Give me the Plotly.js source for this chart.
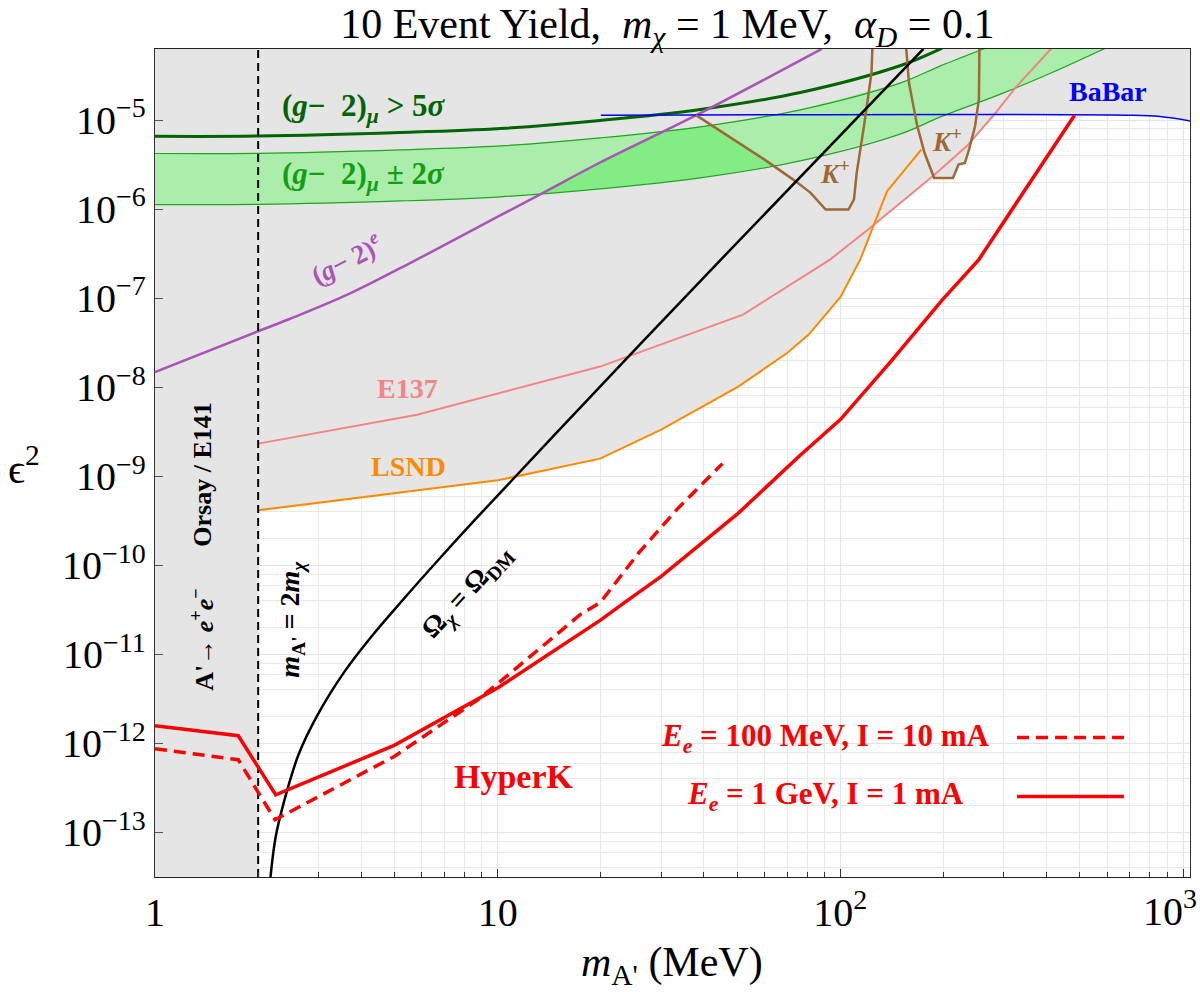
<!DOCTYPE html>
<html>
<head>
<meta charset="utf-8">
<script src="https://cdn.plot.ly/plotly-3.0.1.min.js"></script>
<style>
  html, body { margin: 0; padding: 0; background: #ffffff; }
  #chart { width: 1200px; height: 992px; }
</style>
</head>
<body>
<div id="chart"></div>
<script>
// ---- axis extent: dark photon mass (MeV) and kinetic mixing squared ----
const xLimits = [1, 1048];
const yLimits = [3.16e-14, 6.31e-5];
const mChi = 1;                      // dark matter mass, MeV
const thresholdMass = 2 * mChi;      // m_A' = 2 m_chi

// ---- tick labels ----
const xTickVals = [1, 10, 100, 1000];
const xTickText = ['1', '10', '10<sup>2</sup>', '10<sup>3</sup>'];
const yTickExponents = [-13, -12, -11, -10, -9, -8, -7, -6, -5];

// ---- (g-2)_mu: 5 sigma exclusion and +/- 2 sigma preferred band ----
const gm2Mu5sX = [1.0, 2.0, 5.19, 10.2, 19.9, 39.0, 76.4, 150, 196, 223];
const gm2Mu5sY = [6.6e-6, 6.64e-6, 7.27e-6, 8.07e-6, 9.93e-6, 1.32e-5, 2.05e-5, 4.12e-5, 6.34e-5, 8.1e-5];
const gm2BandTopX = [1.0, 2.0, 5.19, 10.2, 19.9, 39.0, 76.4, 150, 196, 264];
const gm2BandTopY = [4.23e-6, 4.25e-6, 4.65e-6, 5.15e-6, 6.34e-6, 8.43e-6, 1.31e-5, 2.63e-5, 4.08e-5, 6.4e-5];
const gm2BandBotX = [1.0, 2.0, 5.19, 10.2, 19.9, 39.0, 76.4, 150, 196, 292, 409, 592];
const gm2BandBotY = [1.13e-6, 1.135e-6, 1.24e-6, 1.38e-6, 1.69e-6, 2.25e-6, 3.5e-6, 7.03e-6, 1.09e-5, 1.95e-5, 3.35e-5, 6.4e-5];

// ---- (g-2)_e ----
const gm2eX = [1.0, 2.0, 2.48, 3.71, 5.66, 8.77, 13.57, 19.9, 38.0, 88.3];
const gm2eY = [1.48e-8, 4.26e-8, 5.89e-8, 1.135e-7, 2.585e-7, 6.31e-7, 1.53e-6, 3.35e-6, 1.14e-5, 6.34e-5];

// ---- E137 ----
const e137X = [2.0, 5.82, 19.9, 52.0, 93.3, 120.5, 185.6, 233.2, 279.6, 326.3, 412.8];
const e137Y = [2.33e-9, 4.93e-9, 1.71e-8, 6.56e-8, 2.72e-7, 5.92e-7, 2.33e-6, 5.06e-6, 1.13e-5, 2.39e-5, 6.4e-5];

// ---- LSND ----
const lsndX = [2.0, 10.0, 19.9, 30.0, 50.2, 70.1, 80.8, 100, 114.3, 136.8, 151.5, 172.4];
const lsndY = [4.15e-10, 9.02e-10, 1.58e-9, 3.35e-9, 1.01e-8, 2.44e-8, 3.91e-8, 1.03e-7, 2.72e-7, 1.59e-6, 2.56e-6, 4.69e-6];

// ---- BaBar ----
const babarX = [20, 692, 857, 1057];
const babarY = [1.14e-5, 1.14e-5, 1.10e-5, 9.75e-6];

// ---- K+ decays (two windows) ----
const kaon1X = [37.9, 49.0, 60.1, 73.9, 81.9, 90.6, 105.6, 109.6, 111.6, 117.2, 120.3, 123.3, 124.0];
const kaon1Y = [1.14e-5, 6.07e-6, 3.61e-6, 2.07e-6, 1.53e-6, 9.93e-7, 9.93e-7, 1.29e-6, 2.56e-6, 8.57e-6, 1.86e-5, 3.41e-5, 6.34e-5];
const kaon2X = [155.7, 158.6, 163.4, 167.7, 176.0, 187.8, 213.1, 221.3, 230.9, 237.5, 247.2, 253.7, 254.6];
const kaon2Y = [6.34e-5, 2.63e-5, 1.44e-5, 8.57e-6, 4.31e-6, 2.25e-6, 2.25e-6, 3.18e-6, 3.32e-6, 4.69e-6, 8.57e-6, 1.71e-5, 6.34e-5];

// ---- relic density target ----
const relicX = [2.173, 2.248, 2.368, 2.624, 2.985, 3.573, 4.278, 5.254, 6.79, 8.59, 19.9, 44.1, 174.8];
const relicY = [3.16e-14, 8.77e-14, 2.07e-13, 7.51e-13, 2.11e-12, 6.41e-12, 1.58e-11, 3.98e-11, 1.21e-10, 3.26e-10, 1.02e-8, 2.55e-7, 6.34e-5];

// ---- HyperK 10-event yield ----
const hkLowX = [1.0, 1.75, 2.24, 4.99, 8.76, 10.6, 17.4, 19.9, 25.8, 33.3, 45.3];
const hkLowY = [8.71e-13, 6.56e-13, 1.39e-13, 7.14e-13, 3.1e-12, 5.66e-12, 2.79e-11, 3.81e-11, 1.38e-10, 4.23e-10, 1.39e-9];
const hkHighX = [1.0, 1.75, 2.25, 4.99, 9.99, 19.9, 24.1, 30.0, 50.2, 75.8, 100, 140.5, 198.7, 253.6, 482.5];
const hkHighY = [1.58e-12, 1.22e-12, 2.65e-13, 9.51e-13, 4.19e-12, 2.41e-11, 4.12e-11, 7.52e-11, 3.81e-10, 1.68e-9, 4.34e-9, 1.96e-8, 9.66e-8, 2.72e-7, 1.14e-5];

// ---- minor grid positions ----
const xMinorGrid = [];
for (let d = 0; d < 3; d++) for (let k = 2; k <= 9; k++) xMinorGrid.push(k * Math.pow(10, d));
const yMinorGrid = [];
for (let d = -14; d <= -5; d++) for (const k of [2, 4, 6, 8]) yMinorGrid.push(k * Math.pow(10, d));

// ---- colours ----
const C = {
  excluded: '#e5e5e5',
  band: '#abedab',
  bandOpen: '#84ec84',
  bandEdge: '#1fa51f',
  mu5s: '#006400',
  gm2e: '#a855b5',
  e137: '#f58484',
  lsnd: '#ff8a00',
  babar: '#0000ff',
  kaon: '#9b6a37',
  relic: '#000000',
  hk: '#ff0000'
};

// log-log interpolation of a tabulated curve (null outside its span)
function logInterp(xs, ys, x) {
  for (let i = 0; i < xs.length - 1; i++) {
    if (x >= xs[i] && x <= xs[i + 1]) {
      const t = (Math.log10(x) - Math.log10(xs[i])) / (Math.log10(xs[i + 1]) - Math.log10(xs[i]));
      return Math.pow(10, Math.log10(ys[i]) + t * (Math.log10(ys[i + 1]) - Math.log10(ys[i])));
    }
  }
  return null;
}

// region above a curve, closed along the top of the frame
function regionAbove(xs, ys) {
  return {
    x: xs.concat([xs[xs.length - 1], xs[0]]),
    y: ys.concat([yLimits[1] * 1.5, yLimits[1] * 1.5])
  };
}

function fillTrace(poly, color) {
  return {
    type: 'scatter', mode: 'lines', x: poly.x, y: poly.y,
    fill: 'toself', fillcolor: color, line: { width: 0, color: color },
    hoverinfo: 'skip', showlegend: false
  };
}

function lineTrace(xs, ys, line) {
  return {
    type: 'scatter', mode: 'lines', x: xs, y: ys, line: line,
    hoverinfo: 'skip', showlegend: false
  };
}

// part of the (g-2)_mu band not covered by (g-2)_e, BaBar or the first K+ window
function openBandPatch() {
  const upperPts = [], lowerPts = [], xsKept = [];
  const n = 240, lo = Math.log10(8), hi = Math.log10(100);
  const kaonArmX = kaon1X.slice(0, 6), kaonArmY = kaon1Y.slice(0, 6);
  for (let i = 0; i <= n; i++) {
    const x = Math.pow(10, lo + (hi - lo) * i / n);
    const cands = [logInterp(gm2eX, gm2eY, x), logInterp(gm2BandTopX, gm2BandTopY, x)];
    if (x >= babarX[0]) cands.push(babarY[0]);
    const k = logInterp(kaonArmX, kaonArmY, x);
    if (k !== null) cands.push(k);
    if (x > kaonArmX[kaonArmX.length - 1]) cands.push(0);
    const top = Math.min.apply(null, cands.filter(v => v !== null));
    const bot = logInterp(gm2BandBotX, gm2BandBotY, x);
    if (bot !== null && top > bot) { xsKept.push(x); upperPts.push(top); lowerPts.push(bot); }
  }
  return {
    x: xsKept.concat(xsKept.slice().reverse()),
    y: upperPts.concat(lowerPts.slice().reverse())
  };
}

const traces = [];
// excluded (grey) regions
traces.push(fillTrace({ x: [0.5, thresholdMass, thresholdMass, 0.5], y: [1e-16, 1e-16, 1e-3, 1e-3] }, C.excluded));
traces.push(fillTrace(regionAbove(lsndX, lsndY), C.excluded));
traces.push(fillTrace(regionAbove(e137X, e137Y), C.excluded));
traces.push(fillTrace(regionAbove(babarX, babarY), C.excluded));
traces.push(fillTrace(regionAbove(gm2eX, gm2eY), C.excluded));
traces.push(fillTrace({ x: kaon1X.concat([kaon1X[0]]), y: kaon1Y.concat([yLimits[1] * 1.5]) }, C.excluded));
traces.push(fillTrace({ x: kaon2X, y: kaon2Y }, C.excluded));

// (g-2)_mu preferred band
traces.push(fillTrace({
  x: gm2BandTopX.concat(gm2BandBotX.slice().reverse()),
  y: gm2BandTopY.concat(gm2BandBotY.slice().reverse())
}, C.band));
traces.push(fillTrace(openBandPatch(), C.bandOpen));

// curves
traces.push(lineTrace(gm2BandTopX, gm2BandTopY, { color: C.bandEdge, width: 1.2, shape: 'spline' }));
traces.push(lineTrace(gm2BandBotX, gm2BandBotY, { color: C.bandEdge, width: 1.2, shape: 'spline' }));
traces.push(lineTrace(gm2Mu5sX, gm2Mu5sY, { color: C.mu5s, width: 3, shape: 'spline' }));
traces.push(lineTrace(gm2eX, gm2eY, { color: C.gm2e, width: 2.5, shape: 'spline' }));
traces.push(lineTrace(e137X, e137Y, { color: C.e137, width: 2 }));
traces.push(lineTrace(lsndX, lsndY, { color: C.lsnd, width: 2 }));
traces.push(lineTrace(babarX, babarY, { color: C.babar, width: 1.5, shape: 'spline' }));
traces.push(lineTrace(kaon1X, kaon1Y, { color: C.kaon, width: 2.5 }));
traces.push(lineTrace(kaon2X, kaon2Y, { color: C.kaon, width: 2.5 }));
traces.push(lineTrace(relicX, relicY, { color: C.relic, width: 2.5, shape: 'spline' }));
traces.push(lineTrace([thresholdMass, thresholdMass], [yLimits[0], yLimits[1]], { color: '#000', width: 2, dash: '8px,5px' }));
traces.push(lineTrace(hkLowX, hkLowY, { color: C.hk, width: 3.5, dash: '12px,7px' }));
traces.push(lineTrace(hkHighX, hkHighY, { color: C.hk, width: 3.5 }));

const serif = 'Liberation Serif, Times New Roman, serif';
function label(text, x, y, color, size, angle) {
  return {
    text: text, x: x, y: y, xref: 'paper', yref: 'paper',
    xanchor: 'center', yanchor: 'middle', showarrow: false,
    textangle: angle || 0,
    font: { family: serif, size: size, color: color }
  };
}

const axisFont = { family: serif, size: 40, color: '#000' };

// the last x tick label sits at the figure edge, so it is drawn right-aligned
const lastXTick = xTickVals.length - 1;
const edgeTickLabel = {
  text: xTickText[lastXTick], x: Math.log10(xTickVals[lastXTick]), xref: 'x',
  y: -0.0045, yref: 'paper', xanchor: 'right', yanchor: 'top', xshift: 16,
  showarrow: false, font: axisFont
};

const annotations = [
  label('<b>(<i>g</i>−  2)<sub><i>μ</i></sub> > 5<i>σ</i></b>', 0.2019, 0.9293, C.mu5s, 31),
  label('<b>(<i>g</i>−  2)<sub><i>μ</i></sub> ± 2<i>σ</i></b>', 0.2010, 0.8470, '#12a012', 31),
  label('<b>(<i>g</i>− 2)<sup><i>e</i></sup></b>', 0.1850, 0.7480, C.gm2e, 27, -27),
  label('<b>E137</b>', 0.2444, 0.5897, C.e137, 28),
  label('<b>LSND</b>', 0.2454, 0.4955, C.lsnd, 28),
  label('<b>BaBar</b>', 0.9208, 0.9485, C.babar, 28),
  label('<b><i>K</i><sup>+</sup></b>', 0.6570, 0.8518, C.kaon, 27),
  label('<b><i>K</i><sup>+</sup></b>', 0.7652, 0.8905, C.kaon, 27),
  label('<b>Orsay / E141</b>', 0.0464, 0.4859, '#000', 26, -90),
  label("<b>A'→ <i>e</i><sup>+</sup><i>e</i><sup>−</sup></b>", 0.0464, 0.2866, '#000', 26, -90),
  label("<b><i>m</i><sub>A'</sub> = 2<i>m</i><sub><i>χ</i></sub></b>", 0.1324, 0.3107, '#000', 28, -90),
  label('<b>Ω<sub><i>χ</i></sub> = Ω<sub>DM</sub></b>', 0.3024, 0.3446, '#000', 28, -47),
  label('<b>HyperK</b>', 0.3469, 0.1212, C.hk, 34),
  label('<b><i>E</i><sub><i>e</i></sub> = 100 MeV, I = 10 mA</b>', 0.6478, 0.1682, C.hk, 31),
  label('<b><i>E</i><sub><i>e</i></sub> = 1 GeV, I = 1 mA</b>', 0.6478, 0.0982, C.hk, 31),
  label("<i>m</i><sub>A'</sub> (MeV)", 0.4995, -0.1060, '#000', 42),
  label('ϵ<sup>2</sup>', -0.1266, 0.4967, '#000', 42),
  edgeTickLabel
];

// legend line samples
const shapes = [
  { type: 'line', xref: 'paper', yref: 'paper', x0: 0.8329, x1: 0.9362, y0: 0.1686, y1: 0.1686,
    line: { color: C.hk, width: 3.5, dash: '12px,7px' } },
  { type: 'line', xref: 'paper', yref: 'paper', x0: 0.8329, x1: 0.9362, y0: 0.0973, y1: 0.0973,
    line: { color: C.hk, width: 3.5 } }
];

const layout = {
  width: 1200, height: 992,
  margin: { l: 155, r: 10, t: 49, b: 115 },
  paper_bgcolor: '#ffffff', plot_bgcolor: '#ffffff',
  showlegend: false,
  title: {
    text: '10 Event Yield,  <i>m</i><sub><i>χ</i></sub> = 1 MeV,  <i>α</i><sub><i>D</i></sub> = 0.1',
    font: { family: serif, size: 42, color: '#000' },
    x: 0.495, xref: 'paper', xanchor: 'center',
    y: 1 - 23 / 992, yref: 'container', yanchor: 'middle'
  },
  xaxis: {
    type: 'log', range: [Math.log10(xLimits[0]), Math.log10(xLimits[1])],
    tickmode: 'array', tickvals: xTickVals,
    ticktext: xTickText.map((t, i) => (i === lastXTick ? '' : t)),
    ticks: 'inside', ticklen: 8, tickwidth: 1, tickcolor: '#333',
    showline: true, mirror: true, linecolor: '#222', linewidth: 1.2,
    showgrid: true, gridcolor: '#e4e4e4', gridwidth: 1, zeroline: false,
    tickfont: axisFont,
    minor: { tickmode: 'array', tickvals: xMinorGrid, ticks: 'inside', ticklen: 5, tickcolor: '#333',
             showgrid: true, gridcolor: '#e9e9e9', gridwidth: 1 }
  },
  yaxis: {
    type: 'log', range: [Math.log10(yLimits[0]), Math.log10(yLimits[1])],
    tickmode: 'array',
    tickvals: yTickExponents.map(p => Math.pow(10, p)),
    ticktext: yTickExponents.map(p => '10<sup>−' + Math.abs(p) + '</sup>'),
    ticks: 'inside', ticklen: 8, tickwidth: 1, tickcolor: '#555',
    showline: true, mirror: true, linecolor: '#333', linewidth: 1.2,
    showgrid: true, gridcolor: '#e4e4e4', gridwidth: 1, zeroline: false,
    tickfont: axisFont,
    minor: { tickmode: 'array', tickvals: yMinorGrid, ticks: '',
             showgrid: true, gridcolor: '#e9e9e9', gridwidth: 1 }
  },
  annotations: annotations,
  shapes: shapes
};

Plotly.newPlot('chart', traces, layout, { staticPlot: true, displayModeBar: false });
</script>
</body>
</html>
